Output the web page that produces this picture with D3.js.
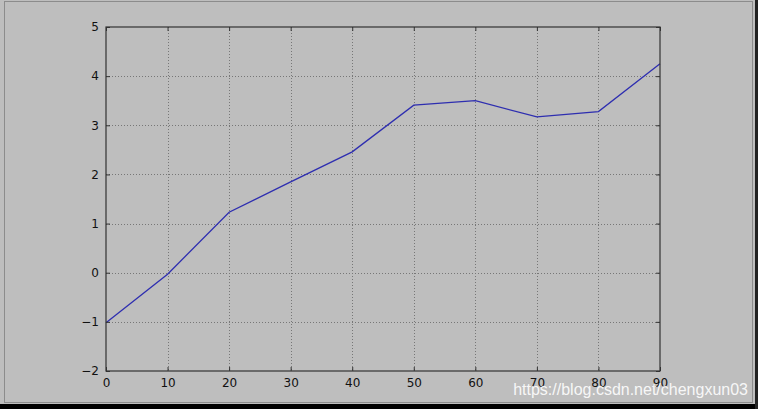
<!DOCTYPE html>
<html>
<head>
<meta charset="utf-8">
<script src="https://cdn.jsdelivr.net/npm/d3@7"></script>
<style>
  html, body { margin: 0; padding: 0; background: #000; }
  svg { display: block; }
</style>
</head>
<body>
<div id="chart"></div>
<script>
// values
var xValues = [0, 10, 20, 30, 40, 50, 60, 70, 80, 90];
var yValues = [-1.02, -0.03, 1.23, 1.85, 2.46, 3.41, 3.50, 3.17, 3.28, 4.25];
var xTicks = [0, 10, 20, 30, 40, 50, 60, 70, 80, 90];
var yTicks = [-2, -1, 0, 1, 2, 3, 4, 5];

var W = 758, H = 409;
var margin = { top: 27, right: 98, bottom: 38, left: 106 };
var width = W - margin.left - margin.right;
var height = H - margin.top - margin.bottom;

var svg = d3.select("#chart")
  .append("svg")
  .attr("width", W)
  .attr("height", H);

// figure background and frame
svg.append("rect")
  .attr("x", 0).attr("y", 0)
  .attr("width", W).attr("height", 404)
  .attr("fill", "#bebebe");
svg.append("rect")
  .attr("x", 4.5).attr("y", 1.5)
  .attr("width", 748).attr("height", 401)
  .attr("fill", "none")
  .attr("stroke", "#8c8c8c");
svg.append("rect")
  .attr("x", 755).attr("y", 0)
  .attr("width", 3).attr("height", H)
  .attr("fill", "#222");

var g = svg.append("g")
  .attr("transform", "translate(" + margin.left + "," + margin.top + ")");

var x = d3.scaleLinear().domain([0, 90]).range([0, width]);
var y = d3.scaleLinear().domain([-2, 5]).range([height, 0]);

// grid lines
g.selectAll(".vgrid")
  .data(xTicks.slice(1, -1))
  .enter().append("line")
  .attr("x1", function(d) { return Math.round(x(d)) + 0.5; })
  .attr("x2", function(d) { return Math.round(x(d)) + 0.5; })
  .attr("y1", 0).attr("y2", height)
  .attr("stroke", "#777")
  .attr("stroke-dasharray", "1,2");

g.selectAll(".hgrid")
  .data(yTicks.slice(1, -1))
  .enter().append("line")
  .attr("y1", function(d) { return Math.round(y(d)) + 0.5; })
  .attr("y2", function(d) { return Math.round(y(d)) + 0.5; })
  .attr("x1", 0).attr("x2", width)
  .attr("stroke", "#777")
  .attr("stroke-dasharray", "1,2");

// the line
var line = d3.line()
  .x(function(d, i) { return x(xValues[i]); })
  .y(function(d) { return y(d); });

g.append("path")
  .datum(yValues)
  .attr("d", line)
  .attr("fill", "none")
  .attr("stroke", "#2e2eb0")
  .attr("stroke-width", 1.3);

// axes, ticks inward on all four sides
function styleAxis(sel) {
  sel.select(".domain").remove();
  sel.selectAll("line").attr("stroke", "#333");
  sel.selectAll("text")
    .style("font-family", "DejaVu Sans, sans-serif")
    .style("font-size", "12px")
    .attr("fill", "#111");
}

g.append("g")
  .attr("transform", "translate(0," + height + ")")
  .call(d3.axisBottom(x).tickValues(xTicks).tickSize(-4).tickPadding(7).tickFormat(d3.format("d")))
  .call(styleAxis);

g.append("g")
  .call(d3.axisTop(x).tickValues(xTicks).tickSize(-4).tickFormat(""))
  .call(styleAxis);

g.append("g")
  .call(d3.axisLeft(y).tickValues(yTicks).tickSize(-4).tickPadding(7)
    .tickFormat(function(d) { return d < 0 ? "\u2212" + Math.abs(d) : d; }))
  .call(styleAxis);

g.append("g")
  .attr("transform", "translate(" + width + ",0)")
  .call(d3.axisRight(y).tickValues(yTicks).tickSize(-4).tickFormat(""))
  .call(styleAxis);

// plot frame
g.append("rect")
  .attr("x", 0).attr("y", 0)
  .attr("width", width).attr("height", height)
  .attr("fill", "none")
  .attr("stroke", "#333")
  .attr("stroke-width", 1.2);

// watermark
svg.append("text")
  .attr("x", 748)
  .attr("y", 395)
  .attr("text-anchor", "end")
  .style("font-family", "Liberation Sans, Arial, sans-serif")
  .style("font-size", "16px")
  .attr("fill", "#ffffff")
  .attr("fill-opacity", 0.9)
  .text("https://blog.csdn.net/chengxun03");
</script>
</body>
</html>
